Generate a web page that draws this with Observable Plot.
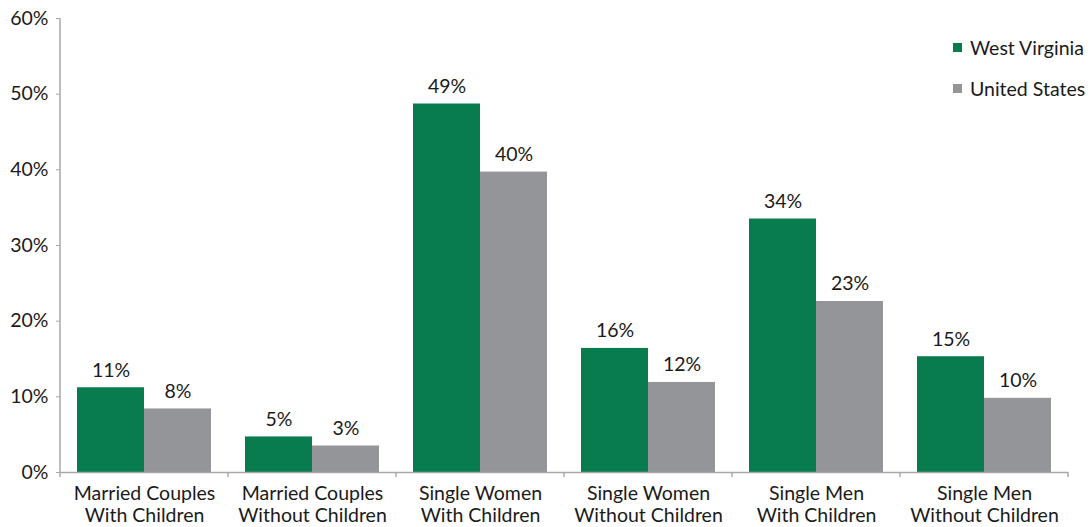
<!DOCTYPE html>
<html><head><meta charset="utf-8">
<script src="https://cdn.jsdelivr.net/npm/d3@7"></script>
<script src="https://cdn.jsdelivr.net/npm/@observablehq/plot@0.6"></script>
<style>
body{margin:0;background:#fff;}
#wrap{position:relative;width:1092px;height:527px;font-family:Lato, "Open Sans", sans-serif;}
#wrap svg{display:block;}
.legend{position:absolute;left:953px;top:27px;font-size:19.5px;color:#1a1a1a;}
.legend .row{display:flex;align-items:center;height:41px;white-space:nowrap;}
.legend .sw{width:9px;height:9px;margin-right:8px;display:inline-block;}
</style></head><body><div id="wrap"></div>
<script>
const categories = [
  "Married Couples\nWith Children",
  "Married Couples\nWithout Children",
  "Single Women\nWith Children",
  "Single Women\nWithout Children",
  "Single Men\nWith Children",
  "Single Men\nWithout Children"
];
const series = ["West Virginia", "United States"];
const wvValues = [11.2, 4.7, 48.7, 16.4, 33.5, 15.3];
const usValues = [8.4, 3.5, 39.7, 11.9, 22.6, 9.8];
const wvLabels = ["11%", "5%", "49%", "16%", "34%", "15%"];
const usLabels = ["8%", "3%", "40%", "12%", "23%", "10%"];
const yTicks = [0, 10, 20, 30, 40, 50, 60];
const colors = ["#087c4f", "#939598"];

const data = [];
categories.forEach((c, i) => {
  data.push({category: c, series: series[0], value: wvValues[i], label: wvLabels[i]});
  data.push({category: c, series: series[1], value: usValues[i], label: usLabels[i]});
});

const axisGrey = "#a8a8a8";
const ink = "#1a1a1a";

const chart = Plot.plot({
  width: 1092, height: 527,
  marginLeft: 58, marginRight: 23, marginTop: 18, marginBottom: 55,
  style: {fontFamily: "Lato, 'Open Sans', sans-serif", fontSize: "19.5px", color: ink, background: "#fff"},
  fx: {domain: categories, padding: 0, label: null},
  x: {domain: series, paddingInner: 0, paddingOuter: 0.25, axis: null},
  y: {domain: [0, 60], axis: null},
  color: {domain: series, range: colors},
  marks: [
    Plot.axisY({ticks: yTicks, tickFormat: d => d + "%", tickSize: 4, tickPadding: 8, stroke: axisGrey, fill: ink, label: null}),
    Plot.axisFx({anchor: "bottom", tickSize: 0, tickPadding: 13, label: null, lineHeight: 1.08, fill: ink}),
    Plot.barY(data, {fx: "category", x: "series", y: "value", fill: "series"}),
    Plot.ruleY([0], {stroke: axisGrey, strokeWidth: 1.5}),
    Plot.text(data, {fx: "category", x: "series", y: "value", text: "label", dy: -11, lineAnchor: "bottom", fill: ink})
  ]
});

// y-axis line and category boundary ticks, placed with the plot's own scales
const fx = chart.scale("fx"), y = chart.scale("y");
const g = d3.select(chart).append("g").attr("stroke", axisGrey).attr("stroke-width", 1.5);
const x0 = fx.apply(categories[0]);
g.append("line").attr("x1", x0).attr("x2", x0).attr("y1", y.apply(60)).attr("y2", y.apply(0));
const bounds = categories.map(c => fx.apply(c)).concat([fx.apply(categories[categories.length - 1]) + fx.bandwidth]);
bounds.forEach(b => g.append("line").attr("x1", b).attr("x2", b).attr("y1", y.apply(0)).attr("y2", y.apply(0) + 5));

const wrap = document.getElementById("wrap");
wrap.appendChild(chart);

const legend = document.createElement("div");
legend.className = "legend";
series.forEach((s, i) => {
  const row = document.createElement("div");
  row.className = "row";
  const sw = document.createElement("span");
  sw.className = "sw";
  sw.style.background = colors[i];
  const t = document.createElement("span");
  t.textContent = s;
  row.appendChild(sw); row.appendChild(t);
  legend.appendChild(row);
});
wrap.appendChild(legend);
</script>
</body></html>
